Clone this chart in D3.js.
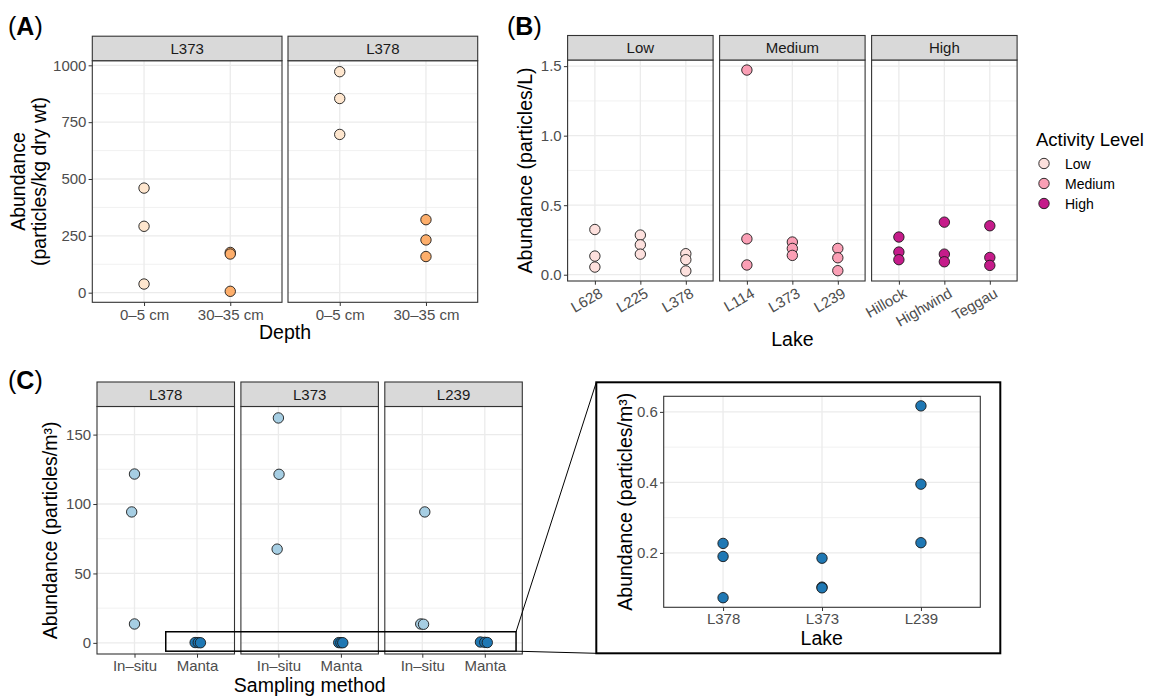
<!DOCTYPE html>
<html>
<head>
<meta charset="utf-8">
<script src="https://cdn.jsdelivr.net/npm/d3@7"></script>
<style>
  body { margin: 0; background: #fff; }
  text { font-family: "Liberation Sans", Arial, Helvetica, sans-serif; }
</style>
</head>
<body>
<div id="chart"></div>
<script>
// ---- Data ----

// (A) sediment, per lake: 0–5 cm and 30–35 cm cores
const depthCats = ["0–5 cm", "30–35 cm"];
const sedimentLakes = ["L373", "L378"];
const sedimentShallow = [[460, 292, 38], [972, 854, 696]];
const sedimentDeep = [[177, 170, 6], [321, 232, 159]];
const depthColors = ["#fee6ce", "#fdae6b"];
const ticksA = [0, 250, 500, 750, 1000];

// (B) surface water by activity level
const activityLevels = ["Low", "Medium", "High"];
const activityLakes = [
    ["L628", "L225", "L378"],
    ["L114", "L373", "L239"],
    ["Hillock", "Highwind", "Teggau"]
];
const surfaceWater = [
    [[0.325, 0.134, 0.055], [0.285, 0.215, 0.148], [0.151, 0.108, 0.027]],
    [[1.472, 0.258, 0.070], [0.235, 0.189, 0.139], [0.189, 0.122, 0.029]],
    [[0.271, 0.163, 0.108], [0.378, 0.148, 0.093], [0.352, 0.124, 0.067]]
];
const activityColors = ["#fde0dd", "#fa9fb5", "#c51b8a"];
const ticksB = [0, 0.5, 1.0, 1.5];

// (C) sampling method comparison
const methodCats = ["In–situ", "Manta"];
const waterLakes = ["L378", "L373", "L239"];
const inSitu = [[121.6, 94.3, 13.6], [162, 121.4, 67.5], [94.3, 13.6, 13.4]];
const manta = [[0.227, 0.190, 0.073], [0.185, 0.103, 0.101], [0.617, 0.395, 0.229]];
// horizontal jitter as seen in the figure (fraction of category step)
const inSituJitter = [[0, -0.045, 0], [0, 0.01, -0.02], [0.04, -0.025, 0.02]];
const mantaJitter = [[-0.03, 0.02, 0.055], [-0.035, 0, 0.03], [-0.07, 0, 0.04]];
const methodColors = ["#a6cee3", "#1f78b4"];
const ticksC = [0, 50, 100, 150];
const ticksInset = [0.2, 0.4, 0.6];
const zoomBand = [-6, 8];

// ---- Layout ----
const W = 1155, H = 696;
const STRIP_H = 24.5;
const TICK = 3.7;
const GRID = "#ebebeb";
const BORDER = "#333333";

const svg = d3.select('#chart').append('svg')
    .attr('width', W)
    .attr('height', H);

/**
 * ggplot-like default expansion: 5% of the data range on both sides
 */
const expand = (values) => {
    const [lo, hi] = d3.extent(values);
    const pad = (hi - lo) * 0.05;
    return [lo - pad, hi + pad];
};

const midpoints = (ticks) => d3.pairs(ticks).map(([a, b]) => (a + b) / 2);

const styleAxis = (ax, size = 15) => {
    ax.select('.domain').remove();
    ax.attr('font-family', null).attr('font-size', null);
    ax.selectAll('line').attr('stroke', BORDER).attr('stroke-width', 1);
    ax.selectAll('text').attr('fill', '#4d4d4d').style('font-size', `${size}px`);
};

/**
 * One facet panel, theme_bw style
 */
const facetPanel = (opt) => {
    const plotTop = opt.strip ? opt.top + STRIP_H : opt.top;
    const x = d3.scalePoint().domain(opt.cats).range([opt.x0, opt.x1]).padding(0.6);
    const y = opt.y;
    const g = svg.append('g');

    g.append('rect')
        .attr('x', opt.x0).attr('y', plotTop)
        .attr('width', opt.x1 - opt.x0).attr('height', opt.bottom - plotTop)
        .attr('fill', '#fff');

    // minor + major grid
    g.append('g').selectAll('line').data(midpoints(opt.ticks)).join('line')
        .attr('x1', opt.x0).attr('x2', opt.x1)
        .attr('y1', d => y(d)).attr('y2', d => y(d))
        .attr('stroke', GRID).attr('stroke-width', 0.7);
    g.append('g').selectAll('line').data(opt.ticks).join('line')
        .attr('x1', opt.x0).attr('x2', opt.x1)
        .attr('y1', d => y(d)).attr('y2', d => y(d))
        .attr('stroke', GRID).attr('stroke-width', 1.3);
    g.append('g').selectAll('line').data(opt.cats).join('line')
        .attr('x1', d => x(d)).attr('x2', d => x(d))
        .attr('y1', plotTop).attr('y2', opt.bottom)
        .attr('stroke', GRID).attr('stroke-width', 1.3);

    // points
    g.append('g').selectAll('circle').data(opt.points).join('circle')
        .attr('cx', d => x(d.cat) + (d.jitter || 0) * x.step())
        .attr('cy', d => y(d.value))
        .attr('r', 5.2)
        .attr('fill', d => d.fill)
        .attr('stroke', '#1a1a1a')
        .attr('stroke-width', 0.9);

    g.append('rect')
        .attr('x', opt.x0).attr('y', plotTop)
        .attr('width', opt.x1 - opt.x0).attr('height', opt.bottom - plotTop)
        .attr('fill', 'none').attr('stroke', BORDER).attr('stroke-width', 1.1);

    if (opt.strip) {
        g.append('rect')
            .attr('x', opt.x0).attr('y', opt.top)
            .attr('width', opt.x1 - opt.x0).attr('height', STRIP_H)
            .attr('fill', '#d9d9d9').attr('stroke', BORDER).attr('stroke-width', 1.1);
        g.append('text')
            .attr('x', (opt.x0 + opt.x1) / 2).attr('y', opt.top + STRIP_H / 2)
            .attr('dy', '0.36em').attr('text-anchor', 'middle')
            .attr('fill', '#1a1a1a').style('font-size', '15px')
            .text(opt.strip);
    }

    const xa = g.append('g')
        .attr('transform', `translate(0,${opt.bottom})`)
        .call(d3.axisBottom(x).tickSize(TICK).tickPadding(opt.xPad || 3));
    styleAxis(xa);
    if (opt.rotate) {
        xa.selectAll('text')
            .attr('text-anchor', 'end')
            .attr('y', 0).attr('dy', '0.71em')
            .attr('transform', 'translate(3,6) rotate(-30)');
    }

    if (opt.showY) {
        const ya = g.append('g')
            .attr('transform', `translate(${opt.x0},0)`)
            .call(d3.axisLeft(y).tickValues(opt.ticks).tickFormat(opt.fmt).tickSize(TICK).tickPadding(2.2));
        styleAxis(ya);
    }
    return x;
};

const title = (txt, x, y, rotate = false, size = 19.5) => {
    const t = svg.append('text')
        .attr('text-anchor', 'middle')
        .attr('fill', '#000')
        .style('font-size', `${size}px`)
        .text(txt);
    if (rotate) t.attr('transform', `translate(${x},${y}) rotate(-90)`);
    else t.attr('x', x).attr('y', y);
    return t;
};

const panelLabel = (letter, x, y) => {
    const t = svg.append('text').attr('x', x).attr('y', y).style('font-size', '25px');
    t.append('tspan').text('(');
    t.append('tspan').attr('font-weight', 'bold').text(letter);
    t.append('tspan').text(')');
};

const panelSpans = (left, right, n, gap) => {
    const w = (right - left - gap * (n - 1)) / n;
    return d3.range(n).map(i => [left + i * (w + gap), left + i * (w + gap) + w]);
};

// ---- (A) ----
const yA = d3.scaleLinear()
    .domain(expand(sedimentShallow.flat().concat(sedimentDeep.flat())))
    .range([302.3, 60.7]);
panelSpans(92.3, 477.7, 2, 6).forEach(([x0, x1], i) => {
    const pts = [];
    sedimentShallow[i].forEach(v => pts.push({ cat: depthCats[0], value: v, fill: depthColors[0] }));
    sedimentDeep[i].forEach(v => pts.push({ cat: depthCats[1], value: v, fill: depthColors[1] }));
    facetPanel({
        x0, x1, top: 36.2, bottom: 302.3, strip: sedimentLakes[i],
        cats: depthCats, y: yA, ticks: ticksA, fmt: d3.format('d'),
        showY: i === 0, points: pts
    });
});
panelLabel('A', 8, 35);
title('Depth', 285, 339);
const ytA = title('', 0, 0, true);
ytA.attr('transform', 'translate(0,181.5) rotate(-90)');
ytA.append('tspan').attr('x', 0).attr('y', 25).text('Abundance');
ytA.append('tspan').attr('x', 0).attr('y', 45.5).text('(particles/kg dry wt)');

// ---- (B) ----
const yB = d3.scaleLinear()
    .domain(expand(surfaceWater.flat(2)))
    .range([281, 60]);
panelSpans(567.6, 1017.1, 3, 6.5).forEach(([x0, x1], i) => {
    const pts = [];
    activityLakes[i].forEach((lake, j) => {
        surfaceWater[i][j].forEach(v => pts.push({ cat: lake, value: v, fill: activityColors[i] }));
    });
    facetPanel({
        x0, x1, top: 35.5, bottom: 281, strip: activityLevels[i],
        cats: activityLakes[i], y: yB, ticks: ticksB, fmt: d3.format('.1f'),
        showY: i === 0, points: pts, rotate: true
    });
});
panelLabel('B', 507, 35);
title('Lake', 792.4, 346);
title('Abundance (particles/L)', 531.5, 170.5, true);

// legend
const legend = svg.append('g').attr('transform', 'translate(1036,0)');
legend.append('text').attr('x', 0).attr('y', 146).style('font-size', '18.5px').text('Activity Level');
const items = legend.selectAll('g.item').data(activityLevels).join('g')
    .attr('class', 'item')
    .attr('transform', (d, i) => `translate(0,${163.5 + i * 20})`);
items.append('circle').attr('cx', 8).attr('r', 5.2)
    .attr('fill', (d, i) => activityColors[i]).attr('stroke', '#1a1a1a').attr('stroke-width', 0.9);
items.append('text').attr('x', 29).attr('dy', '0.36em').style('font-size', '14px').text(d => d);

// ---- (C) ----
const yC = d3.scaleLinear()
    .domain(expand(inSitu.flat().concat(manta.flat())))
    .range([654, 406.7]);
const xC = panelSpans(97, 522.3, 3, 6.4).map(([x0, x1], i) => {
    const pts = [];
    inSitu[i].forEach((v, k) => pts.push({ cat: methodCats[0], value: v, fill: methodColors[0], jitter: inSituJitter[i][k] }));
    manta[i].forEach((v, k) => pts.push({ cat: methodCats[1], value: v, fill: methodColors[1], jitter: mantaJitter[i][k] }));
    return facetPanel({
        x0, x1, top: 382, bottom: 654, strip: waterLakes[i],
        cats: methodCats, y: yC, ticks: ticksC, fmt: d3.format('d'),
        showY: i === 0, points: pts
    });
});
panelLabel('C', 8, 389);
title('Sampling method', 309.7, 692);
title('Abundance (particles/m³)', 57, 530.4, true);

// inset
const INSET = { x0: 596.3, y0: 382.3, x1: 1000.3, y1: 653.3 };
const yIn = d3.scaleLinear().domain(expand(manta.flat())).range([607.3, 396.3]);
const insetPts = [];
waterLakes.forEach((lake, i) => manta[i].forEach(v => insetPts.push({ cat: lake, value: v, fill: methodColors[1] })));
facetPanel({
    x0: 663.7, x1: 980.3, top: 396.3, bottom: 607.3, strip: null,
    cats: waterLakes, y: yIn, ticks: ticksInset, fmt: d3.format('.1f'),
    showY: true, points: insetPts, xPad: 2
});
title('Lake', 821.7, 645);
title('Abundance (particles/m³)', 631.5, 501.8, true);

// zoom box + connectors
const zx0 = xC[0](methodCats[1]) - 0.5 * xC[0].step();
const zx1 = xC[2](methodCats[1]) + 0.5 * xC[2].step();
const zy0 = yC(zoomBand[1]), zy1 = yC(zoomBand[0]);
svg.append('rect')
    .attr('x', zx0).attr('y', zy0).attr('width', zx1 - zx0).attr('height', zy1 - zy0)
    .attr('fill', 'none').attr('stroke', '#000').attr('stroke-width', 1.5);
svg.append('line').attr('x1', zx1).attr('y1', zy0).attr('x2', INSET.x0).attr('y2', INSET.y0)
    .attr('stroke', '#000').attr('stroke-width', 1);
svg.append('line').attr('x1', zx1).attr('y1', zy1).attr('x2', INSET.x0).attr('y2', INSET.y1)
    .attr('stroke', '#000').attr('stroke-width', 1);
svg.append('rect')
    .attr('x', INSET.x0).attr('y', INSET.y0)
    .attr('width', INSET.x1 - INSET.x0).attr('height', INSET.y1 - INSET.y0)
    .attr('fill', 'none').attr('stroke', '#000').attr('stroke-width', 2);
</script>
</body>
</html>
